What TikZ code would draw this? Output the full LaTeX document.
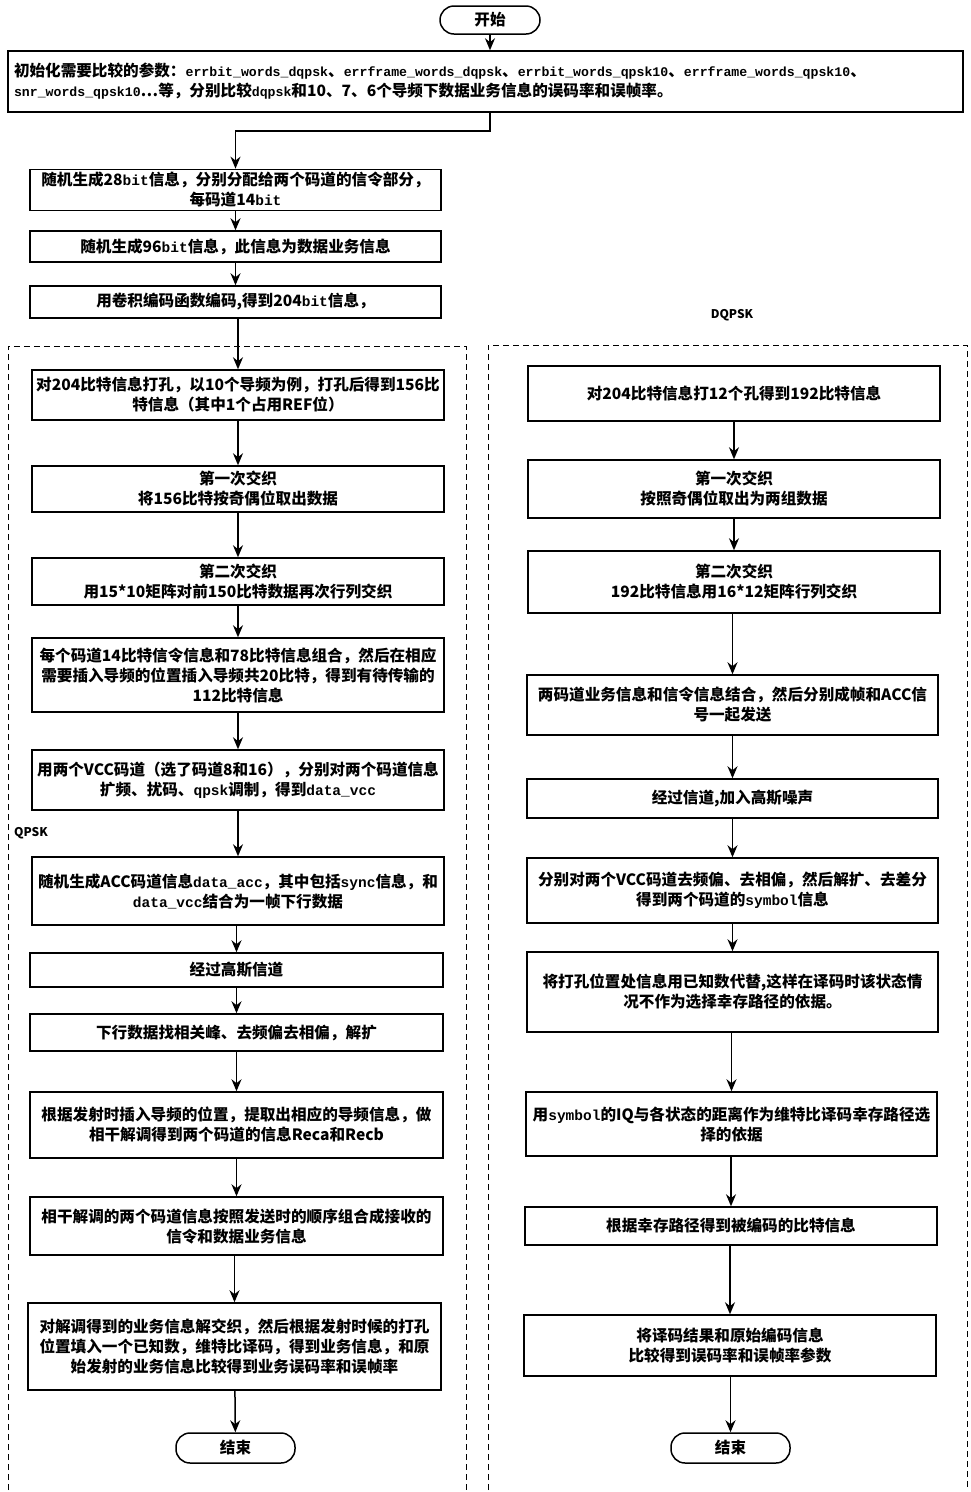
\documentclass[tikz,border=0pt]{standalone}
\usepackage{fontspec}
\setmainfont{Noto Sans CJK SC}
\newfontfamily\lmono{Liberation Mono}
\usetikzlibrary{arrows.meta}
\newcommand{\tf}{\fontsize{15.6}{20}\selectfont\bfseries}
\newcommand{\mt}[1]{{\fontsize{14.5}{20}\selectfont\lmono\bfseries #1}}
\newcommand{\mi}[1]{{\fontsize{13.2}{20}\selectfont\lmono\bfseries #1}}
\tikzset{
  pbox/.style={draw, line width=1.5pt, minimum width=412pt, align=center, inner sep=3pt, font=\tf},
  term/.style={draw, line width=1.5pt, rounded corners=14pt, minimum width=119pt, minimum height=30pt, inner sep=2pt, font=\tf},
  arr/.style={line width=1.5pt, -{Stealth[length=12pt,width=10pt]}},
  frame/.style={dashed, line width=0.9pt, dash pattern=on 6pt off 4pt},
  lbl/.style={font=\fontsize{12}{14}\selectfont\bfseries, inner sep=0pt}
}
\begin{document}
\begin{tikzpicture}[x=1pt,y=-1pt]
\useasboundingbox (0,0) rectangle (971,1492);
% start
\node[term, minimum width=100pt, minimum height=28pt] (start) at (490,20) {开始};
\node[draw, line width=1.5pt, minimum width=955pt, minimum height=61pt, text width=943pt, inner xsep=6pt, align=left, font=\tf] (init) at (485.5,81.5)
 {初始化需要比较的参数：\mi{errbit\_words\_dqpsk}、\mi{errframe\_words\_dqpsk}、\mi{errbit\_words\_qpsk10}、\mi{errframe\_words\_qpsk10}、\\
 \mi{snr\_words\_qpsk10}…等，分别比较\mi{dqpsk}和10、7、6个导频下数据业务信息的误码率和误帧率。};
% top chain
\node[pbox, minimum width=411pt, minimum height=40pt] (a) at (235.5,190) {随机生成28\mt{bit}信息，分别分配给两个码道的信令部分，\\每码道14\mt{bit}};
\node[pbox, minimum width=411pt, minimum height=31pt] (b) at (235.5,246.5) {随机生成96\mt{bit}信息，此信息为数据业务信息};
\node[pbox, minimum width=411pt, minimum height=32pt] (c) at (235.5,302) {用卷积编码函数编码,得到204\mt{bit}信息，};
% frames
\draw[frame] (8,1490) -- (8,346) -- (466,346) -- (466,1490);
\draw[frame] (488,1490) -- (488,345) -- (967,345) -- (967,1490);
\node[lbl] (qpsk) at (31,833) {QPSK};
\node[lbl] (dqpsk) at (732,315) {DQPSK};
% left column
\node[pbox, minimum height=50pt] (d) at (238,395) {对204比特信息打孔，以10个导频为例，打孔后得到156比\\特信息（其中1个占用REF位）};
\node[pbox, minimum height=46pt] (e) at (238,489) {第一次交织\\将156比特按奇偶位取出数据};
\node[pbox, minimum height=47pt] (f) at (238,581.5) {第二次交织\\用15*10矩阵对前150比特数据再次行列交织};
\node[pbox, minimum height=74pt] (g) at (238,675) {每个码道14比特信令信息和78比特信息组合，然后在相应\\需要插入导频的位置插入导频共20比特，得到有待传输的\\112比特信息};
\node[pbox, minimum height=60pt] (h) at (238,780) {用两个VCC码道（选了码道8和16），分别对两个码道信息\\扩频、扰码、\mt{qpsk}调制，得到\mt{data\_vcc}};
\node[pbox, minimum height=68pt] (i) at (238,891) {随机生成ACC码道信息\mt{data\_acc}，其中包括\mt{sync}信息，和\\\mt{data\_vcc}结合为一帧下行数据};
\node[pbox, minimum width=413pt, minimum height=34pt] (j) at (236.5,970) {经过高斯信道};
\node[pbox, minimum width=413pt, minimum height=37pt] (k) at (236.5,1032.5) {下行数据找相关峰、去频偏去相偏，解扩};
\node[pbox, minimum width=413pt, minimum height=66pt] (l) at (236.5,1125) {根据发射时插入导频的位置，提取出相应的导频信息，做\\相干解调得到两个码道的信息Reca和Recb};
\node[pbox, minimum width=413pt, minimum height=58pt] (m) at (236.5,1226) {相干解调的两个码道信息按照发送时的顺序组合成接收的\\信令和数据业务信息};
\node[pbox, minimum width=413pt, minimum height=87pt] (n) at (234.5,1346.5) {对解调得到的业务信息解交织，然后根据发射时候的打孔\\位置填入一个已知数，维特比译码，得到业务信息，和原\\始发射的业务信息比较得到业务误码率和误帧率};
\node[term] (endl) at (235.5,1448) {结束};
% right column
\node[pbox, minimum height=55pt] (r1) at (734,393.5) {对204比特信息打12个孔得到192比特信息};
\node[pbox, minimum height=58pt] (r2) at (734,489) {第一次交织\\按照奇偶位取出为两组数据};
\node[pbox, minimum height=62pt] (r3) at (734,582) {第二次交织\\192比特信息用16*12矩阵行列交织};
\node[pbox, minimum width=411pt, minimum height=60pt] (r4) at (732.5,705) {两码道业务信息和信令信息结合，然后分别成帧和ACC信\\号一起发送};
\node[pbox, minimum width=411pt, minimum height=39pt] (r5) at (732.5,798.5) {经过信道,加入高斯噪声};
\node[pbox, minimum width=411pt, minimum height=65pt] (r6) at (732.5,890.5) {分别对两个VCC码道去频偏、去相偏，然后解扩、去差分\\得到两个码道的\mt{symbol}信息};
\node[pbox, minimum width=411pt, minimum height=80pt] (r7) at (732.5,992) {将打孔位置处信息用已知数代替,这样在译码时该状态情\\况不作为选择幸存路径的依据。};
\node[pbox, minimum width=411pt, minimum height=64pt] (r8) at (731.5,1124) {用\mt{symbol}的IQ与各状态的距离作为维特比译码幸存路径选\\择的依据};
\node[pbox, minimum width=412pt, minimum height=38pt] (r9) at (731,1226) {根据幸存路径得到被编码的比特信息};
\node[pbox, minimum width=412pt, minimum height=61pt] (r10) at (730,1345.5) {将译码结果和原始编码信息\\比较得到误码率和误帧率参数};
\node[term] (endr) at (730.5,1448) {结束};
% connectors
\draw[arr] (start) -- (init.north -| start);
\draw[arr] (init.south -| start) -- ++(0,18) -| (a.north);
\draw[arr] (a) -- (b);
\draw[arr] (b) -- (c);
\draw[arr] (c.south -| d.north) -- (d.north);
\foreach \p/\q in {d/e,e/f,f/g,g/h,h/i}
  \draw[arr] (\p) -- (\q);
\draw[arr] (i.south -| j.north) -- (j.north);
\foreach \p/\q in {j/k,k/l,l/m}
  \draw[arr] (\p) -- (\q);
\draw[arr] (m.south -| n.north) -- (n.north);
\draw[arr] (n) -- (endl);
\foreach \p/\q in {r1/r2,r2/r3}
  \draw[arr] (\p) -- (\q);
\draw[arr] (r3.south -| r4.north) -- (r4.north);
\foreach \p/\q in {r4/r5,r5/r6,r6/r7}
  \draw[arr] (\p) -- (\q);
\draw[arr] (r7.south -| r8.north) -- (r8.north);
\draw[arr] (r8.south -| r9.north) -- (r9.north);
\draw[arr] (r9.south -| r10.north) -- (r10.north);
\draw[arr] (r10.south -| endr.north) -- (endr.north);
\end{tikzpicture}
\end{document}
